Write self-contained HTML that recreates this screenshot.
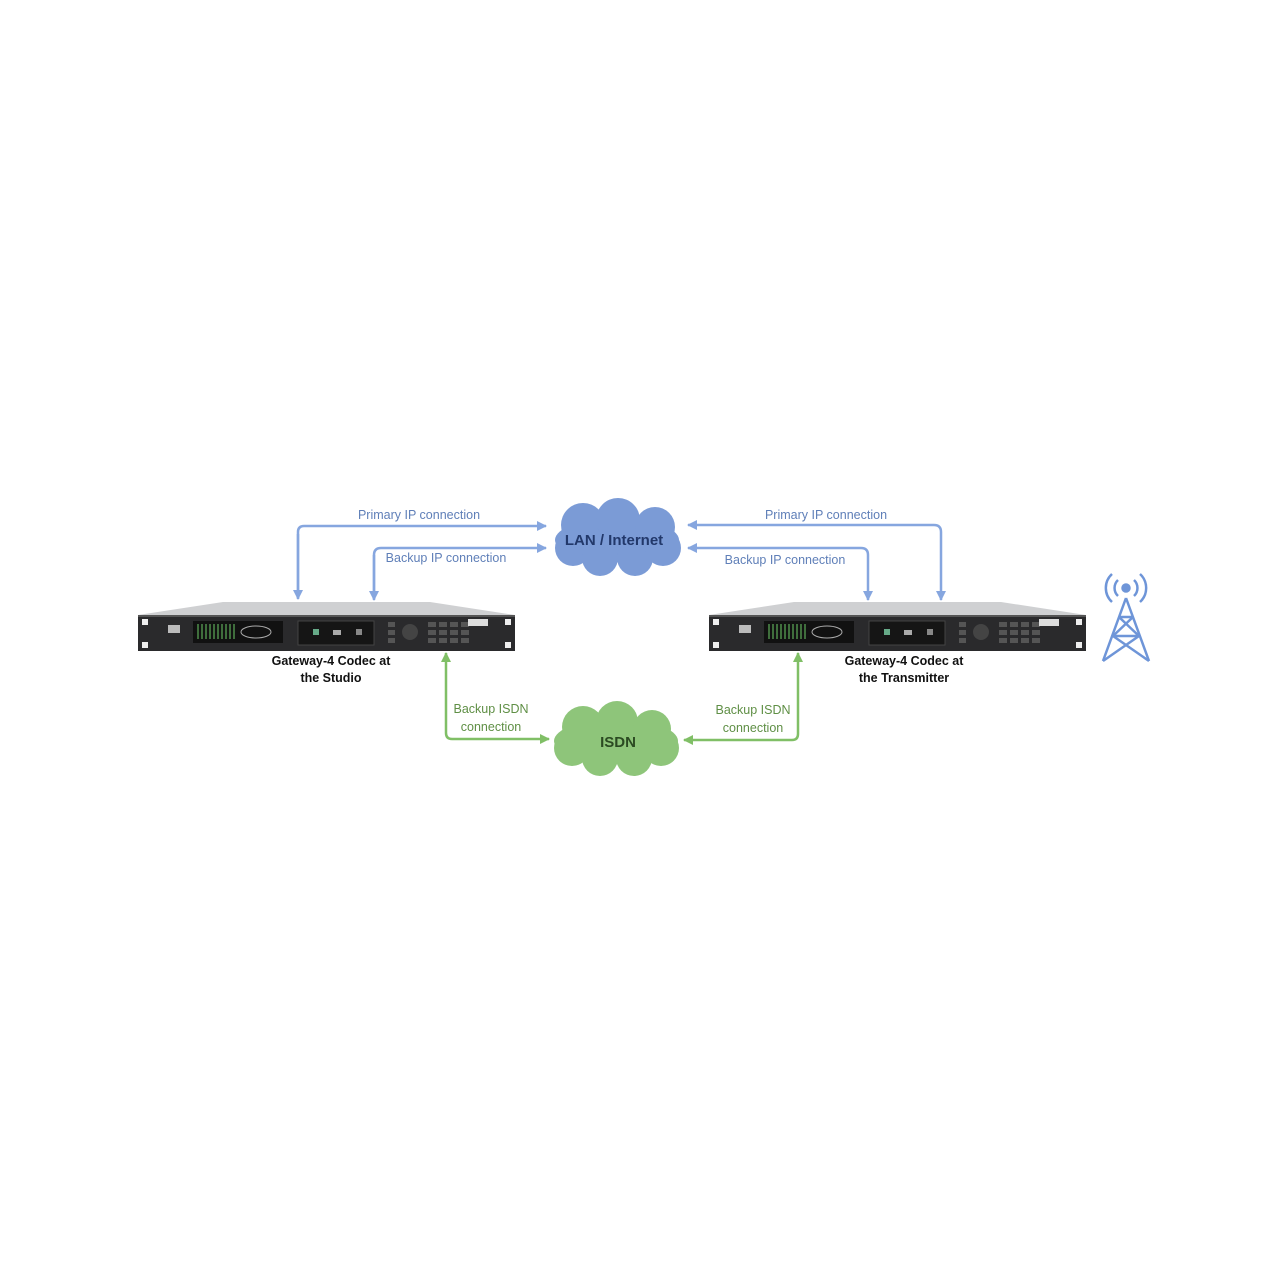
<!DOCTYPE html>
<html><head><style>
body{margin:0;background:#fff;width:1280px;height:1280px;overflow:hidden;font-family:"Liberation Sans",sans-serif}
</style></head><body>
<svg width="1280" height="1280" viewBox="0 0 1280 1280" xmlns="http://www.w3.org/2000/svg">
<defs>
<marker id="ab" markerWidth="10" markerHeight="10" refX="9" refY="5" orient="auto" markerUnits="userSpaceOnUse"><path d="M0,0 L10,5 L0,10 z" fill="#86a6df"/></marker>
<marker id="ag" markerWidth="10" markerHeight="10" refX="9" refY="5" orient="auto" markerUnits="userSpaceOnUse"><path d="M0,0 L10,5 L0,10 z" fill="#80bf66"/></marker>
<g id="dev">
<path d="M0,14 L85,1 L292,1 L377,14 Z" fill="#cfd0d2"/>
<rect x="0" y="14" width="377" height="36" fill="#2a2a2c"/>
<rect x="0" y="14" width="377" height="2" fill="#555"/>
<rect x="4" y="18" width="6" height="6" fill="#eee"/><rect x="4" y="41" width="6" height="6" fill="#eee"/>
<rect x="367" y="18" width="6" height="6" fill="#eee"/><rect x="367" y="41" width="6" height="6" fill="#eee"/>
<rect x="30" y="24" width="12" height="8" fill="#bbb"/>
<rect x="55" y="20" width="90" height="22" fill="#111"/>
<g stroke="#5fae5a" stroke-width="1.2"><line x1="60" y1="23" x2="60" y2="38"/><line x1="64" y1="23" x2="64" y2="38"/><line x1="68" y1="23" x2="68" y2="38"/><line x1="72" y1="23" x2="72" y2="38"/><line x1="76" y1="23" x2="76" y2="38"/><line x1="80" y1="23" x2="80" y2="38"/><line x1="84" y1="23" x2="84" y2="38"/><line x1="88" y1="23" x2="88" y2="38"/><line x1="92" y1="23" x2="92" y2="38"/><line x1="96" y1="23" x2="96" y2="38"/></g>
<ellipse cx="118" cy="31" rx="15" ry="6" fill="none" stroke="#aaa"/>
<rect x="160" y="20" width="76" height="24" fill="#151515" stroke="#444"/>
<rect x="175" y="28" width="6" height="6" fill="#6a8"/><rect x="195" y="29" width="8" height="5" fill="#aaa"/><rect x="218" y="28" width="6" height="6" fill="#888"/>
<g fill="#555"><rect x="250" y="21" width="7" height="5"/><rect x="250" y="29" width="7" height="5"/><rect x="250" y="37" width="7" height="5"/>
<circle cx="272" cy="31" r="8" fill="#444"/>
<rect x="290" y="21" width="8" height="5"/><rect x="301" y="21" width="8" height="5"/><rect x="312" y="21" width="8" height="5"/><rect x="323" y="21" width="8" height="5"/>
<rect x="290" y="29" width="8" height="5"/><rect x="301" y="29" width="8" height="5"/><rect x="312" y="29" width="8" height="5"/><rect x="323" y="29" width="8" height="5"/>
<rect x="290" y="37" width="8" height="5"/><rect x="301" y="37" width="8" height="5"/><rect x="312" y="37" width="8" height="5"/><rect x="323" y="37" width="8" height="5"/></g>
<rect x="330" y="18" width="20" height="7" fill="#ddd"/>
</g>
</defs>

<!-- blue connectors -->
<g fill="none" stroke="#86a6df" stroke-width="2.5">
<path d="M298,598 L298,532 Q298,526 304,526 L546,526" marker-end="url(#ab)"/>
<path d="M298,534 L298,599" marker-end="url(#ab)"/>
<path d="M374,599 L374,555 Q374,548 381,548 L546,548" marker-end="url(#ab)"/>
<path d="M374,555 L374,600" marker-end="url(#ab)"/>
<path d="M941,532 Q941,525 934,525 L688,525" marker-end="url(#ab)"/>
<path d="M941,532 L941,600" marker-end="url(#ab)"/>
<path d="M868,555 Q868,548 861,548 L688,548" marker-end="url(#ab)"/>
<path d="M868,555 L868,600" marker-end="url(#ab)"/>
</g>
<!-- green connectors -->
<g fill="none" stroke="#80bf66" stroke-width="2.5">
<path d="M446,733 Q446,739 452,739 L549,739" marker-end="url(#ag)"/>
<path d="M446,733 L446,653" marker-end="url(#ag)"/>
<path d="M798,734 Q798,740 792,740 L684,740" marker-end="url(#ag)"/>
<path d="M798,734 L798,653" marker-end="url(#ag)"/>
</g>

<!-- clouds -->
<g fill="#7b9bd6">
<ellipse cx="617" cy="540" rx="62" ry="22"/>
<circle cx="583" cy="525" r="22"/><circle cx="618" cy="520" r="22"/><circle cx="655" cy="527" r="20"/>
<circle cx="573" cy="548" r="18"/><circle cx="600" cy="558" r="18"/><circle cx="635" cy="558" r="18"/><circle cx="663" cy="548" r="18"/>
</g>
<g fill="#8ec57a">
<ellipse cx="616" cy="741" rx="62" ry="22"/>
<circle cx="583" cy="727" r="21"/><circle cx="617" cy="722" r="21"/><circle cx="652" cy="729" r="19"/>
<circle cx="572" cy="748" r="18"/><circle cx="600" cy="758" r="18"/><circle cx="634" cy="758" r="18"/><circle cx="661" cy="748" r="18"/>
</g>
<text x="614" y="545" font-size="15" font-weight="bold" fill="#22386a" text-anchor="middle">LAN / Internet</text>
<text x="618" y="747" font-size="15" font-weight="bold" fill="#2b4a22" text-anchor="middle">ISDN</text>

<!-- labels -->
<g font-size="12.5" fill="#5f7fb8" text-anchor="middle">
<text x="419" y="519">Primary IP connection</text>
<text x="446" y="562">Backup  IP connection</text>
<text x="826" y="519">Primary IP connection</text>
<text x="785" y="564">Backup IP connection</text>
</g>
<g font-size="12.5" fill="#5f8f45" text-anchor="middle">
<text x="491" y="713">Backup ISDN</text><text x="491" y="731">connection</text>
<text x="753" y="714">Backup ISDN</text><text x="753" y="732">connection</text>
</g>

<use href="#dev" x="138" y="601"/>
<use href="#dev" x="709" y="601"/>

<g font-size="12.5" font-weight="bold" fill="#111" text-anchor="middle">
<text x="331" y="665">Gateway-4 Codec at</text><text x="331" y="682">the Studio</text>
<text x="904" y="665">Gateway-4 Codec at</text><text x="904" y="682">the Transmitter</text>
</g>

<!-- tower -->
<g fill="none" stroke="#6e95d8" stroke-width="2.5">
<circle cx="1126" cy="588" r="3.5" fill="#6e95d8"/>
<path d="M1118,580 A11,11 0 0 0 1118,596"/><path d="M1134,580 A11,11 0 0 1 1134,596"/>
<path d="M1112,574 A19,19 0 0 0 1112,602"/><path d="M1140,574 A19,19 0 0 1 1140,602"/>
<path d="M1126,598 L1103,661 M1126,598 L1149,661"/>
<path d="M1119,617 L1133,617 M1113,636 L1139,636 M1119,617 L1139,636 M1133,617 L1113,636 M1113,636 L1149,661 M1139,636 L1103,661"/>
</g>
</svg>
</body></html>
